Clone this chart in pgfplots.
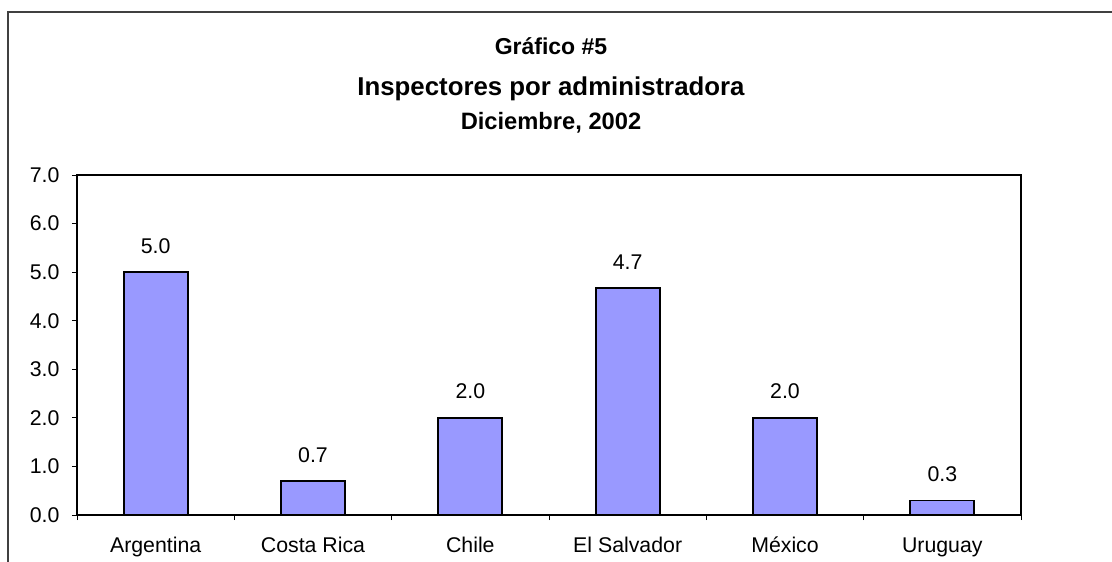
\documentclass[border=0pt]{standalone}
\usepackage{fontspec}
\setmainfont{Liberation Sans}
\usepackage{pgfplots}
\pgfplotsset{compat=1.18}
\definecolor{barblue}{HTML}{9999FF}
\definecolor{framegray}{HTML}{404040}
\begin{document}
\begin{tikzpicture}[x=1bp,y=1bp]
\path[use as bounding box] (0,0) rectangle (1112,-562);
\draw[line width=1.4bp, color=framegray] (8,-575) -- (8,-12) -- (1125,-12);
\node[anchor=base, font=\fontsize{23bp}{27bp}\selectfont\bfseries] at (551,-55) {Gráfico \#5};
\node[anchor=base, font=\fontsize{25.8bp}{30bp}\selectfont\bfseries] at (551,-96) {Inspectores por administradora};
\node[anchor=base, font=\fontsize{23.7bp}{28bp}\selectfont\bfseries] at (551,-130) {Diciembre, 2002};
\begin{axis}[
  at={(77bp,-515bp)}, anchor=south west,
  scale only axis, width=944bp, height=340bp,
  xmin=-0.5, xmax=5.5, ymin=0, ymax=7,
  axis line style={line width=1.4bp, black},
  ybar, bar width=64bp, bar shift=0pt,
  xtick={0,1,2,3,4,5},
  xticklabels={Argentina, Costa Rica, Chile, El Salvador, México, Uruguay},
  minor xtick={-0.5,0.5,1.5,2.5,3.5,4.5,5.5},
  major x tick style={draw=none},
  minor x tick style={line width=0.9bp, black},
  ytick={0,1,2,3,4,5,6,7},
  y tick style={line width=0.9bp, black},
  tick align=outside, major tick length=5bp, minor tick length=5bp,
  xtick pos=bottom, ytick pos=left,
  tick label style={font=\fontsize{21.3bp}{25bp}\selectfont},
  /pgf/number format/assume math mode=true,
  yticklabel style={xshift=-9bp, /pgf/number format/fixed, /pgf/number format/fixed zerofill, /pgf/number format/precision=1},
  xticklabel style={anchor=base, yshift=-32bp},
  nodes near coords,
  nodes near coords style={font=\fontsize{21.3bp}{25bp}\selectfont, anchor=base, yshift=19bp,
     /pgf/number format/fixed, /pgf/number format/fixed zerofill, /pgf/number format/precision=1},
]
\addplot[fill=barblue, draw=black, line width=1.8bp] coordinates {
  (0,5.0) (1,0.7) (2,2.0) (3,4.67) (4,2.0) (5,0.3)
};
\end{axis}
\end{tikzpicture}
\end{document}
